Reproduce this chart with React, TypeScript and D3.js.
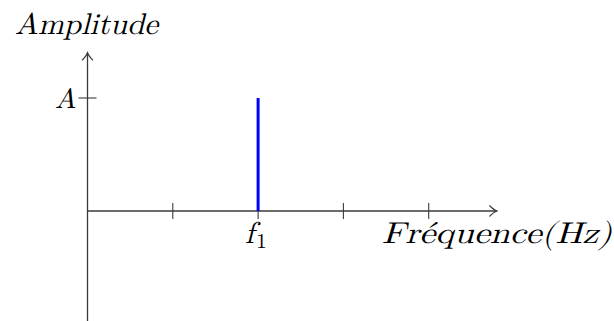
import React from "react";
import * as d3 from "d3";

// Spectrum of a single pure tone: one line at f1 with amplitude A
const frequencyTicks = [1, 2, 3, 4];
const peakFrequency = [2];
const peakAmplitude = [1];
const amplitudeTicks = [1];
const peakLabels = ["f"];
const peakSubscripts = ["1"];
const amplitudeLabels = ["A"];

const W = 614;
const H = 321;

const mathFont = "Latin Modern Math, Liberation Serif, serif";

export default function App() {
  const x = d3.scaleLinear().domain([0, 1]).range([87.5, 172.8]);
  const y = d3.scaleLinear().domain([0, 1]).range([211, 98]);

  const x0 = x(0);
  const y0 = y(0);
  const xEnd = x(4.8);
  const yTop = y(1.4);
  const yBottom = H + 2;
  const axisColor = "#3a3a3a";

  // open curved arrow head (TeX "to" style)
  const arrowUp = (px: number, py: number) =>
    `M${px - 5.5},${py + 7.5} Q${px - 1},${py + 3} ${px},${py} Q${px + 1},${py + 3} ${px + 5.5},${py + 7.5}`;
  const arrowRight = (px: number, py: number) =>
    `M${px - 7.5},${py - 5.5} Q${px - 3},${py - 1} ${px},${py} Q${px - 3},${py + 1} ${px - 7.5},${py + 5.5}`;

  return (
    <svg width={W} height={H} style={{ position: "absolute", left: 0, top: 0 }}>
      {/* axes */}
      <line x1={x0} y1={y0} x2={xEnd} y2={y0} stroke={axisColor} strokeWidth={1.3} />
      <line x1={x0} y1={yBottom} x2={x0} y2={yTop} stroke={axisColor} strokeWidth={1.3} />
      <path d={arrowRight(xEnd, y0)} fill="none" stroke={axisColor} strokeWidth={1.2} />
      <path d={arrowUp(x0, yTop)} fill="none" stroke={axisColor} strokeWidth={1.2} />

      {/* frequency ticks */}
      {frequencyTicks.map((t) => (
        <line
          key={t}
          x1={x(t)}
          x2={x(t)}
          y1={y0 - 8}
          y2={y0 + 8}
          stroke={axisColor}
          strokeWidth={1.1}
        />
      ))}

      {/* amplitude ticks */}
      {amplitudeTicks.map((t) => (
        <line
          key={t}
          x1={x0 - 9}
          x2={x0 + 9}
          y1={y(t)}
          y2={y(t)}
          stroke={axisColor}
          strokeWidth={1.1}
        />
      ))}

      {/* spectral line */}
      {peakFrequency.map((f, i) => (
        <line
          key={f}
          x1={x(f)}
          x2={x(f)}
          y1={y0}
          y2={y(peakAmplitude[i])}
          stroke="#0000ff"
          strokeWidth={3}
        />
      ))}

      {/* labels */}
      <text
        x={15}
        y={34}
        fontSize={30}
        textLength={143}
        lengthAdjust="spacingAndGlyphs"
        style={{ fontFamily: mathFont, fontStyle: "italic" }}
      >
        Amplitude
      </text>

      {amplitudeTicks.map((t, i) => (
        <text
          key={t}
          x={76}
          y={y(t) + 10}
          textAnchor="end"
          fontSize={28}
          style={{ fontFamily: mathFont, fontStyle: "italic" }}
        >
          {amplitudeLabels[i]}
        </text>
      ))}

      {peakFrequency.map((f, i) => (
        <text
          key={f}
          x={x(f) - 13}
          y={243}
          fontSize={30}
          style={{ fontFamily: mathFont, fontStyle: "italic" }}
        >
          {peakLabels[i]}
          <tspan dx={2} dy={5} fontSize={21} style={{ fontStyle: "normal" }}>
            {peakSubscripts[i]}
          </tspan>
        </text>
      ))}

      <text
        x={382}
        y={243}
        fontSize={30}
        textLength={230}
        lengthAdjust="spacingAndGlyphs"
        style={{ fontFamily: mathFont, fontStyle: "italic" }}
      >
        Fréquence(Hz)
      </text>
    </svg>
  );
}
